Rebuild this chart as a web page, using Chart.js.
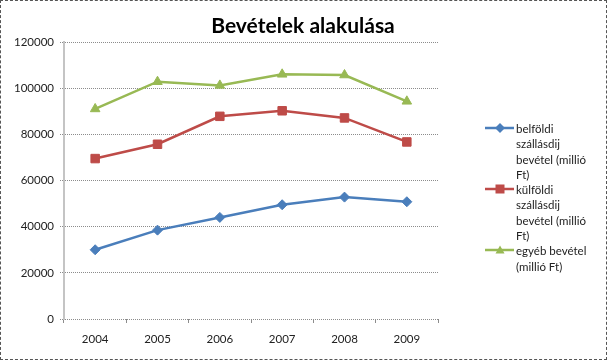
<!DOCTYPE html>
<html lang="hu">
<head>
<meta charset="utf-8">
<title>Bevételek alakulása</title>
<script src="https://cdn.jsdelivr.net/npm/chart.js@4/dist/chart.umd.min.js"></script>
<style>
  html, body { margin: 0; padding: 0; background: #fff; }
  #wrap {
    position: relative;
    width: 605px;
    height: 358px;
    border: 1px dashed #555;
    font-family: Lato, "Noto Sans", sans-serif;
  }
  #chart { position: absolute; left: -1px; top: -1px; }
  #legend {
    position: absolute;
    left: 484px;
    top: 120px;
    font-size: 11.5px;
    line-height: 15.3px;
    color: #222;
  }
  .item { display: flex; align-items: flex-start; }
  .item svg { flex: none; margin-top: 1px; }
  .item span { padding-left: 1px; }
</style>
</head>
<body>
<div id="wrap">
  <canvas id="chart" width="607" height="360"></canvas>
  <div id="legend"></div>
</div>
<script>
const years = ["2004", "2005", "2006", "2007", "2008", "2009"];
const domestic = [30000, 38500, 44000, 49500, 52800, 50800];
const foreign = [69500, 75700, 87800, 90200, 87100, 76700];
const other = [91000, 102800, 101200, 106000, 105700, 94300];
const yTicks = [0, 20000, 40000, 60000, 80000, 100000, 120000];

const seriesNames = [
  ["belföldi", "szállásdij", "bevétel (millió", "Ft)"],
  ["külföldi", "szállásdij", "bevétel (millió", "Ft)"],
  ["egyéb bevétel", "(millió Ft)"]
];
const colors = ["#4a7ebb", "#be4b48", "#98b954"];
const markers = ["rectRot", "rect", "triangle"];
const markerSizes = [5, 6, 5.5];

const PLOT = { left: 64, right: 438, top: 42, bottom: 319 };

function makeDataset(i, data) {
  return {
    label: seriesNames[i].join(" "),
    data,
    borderColor: colors[i],
    backgroundColor: colors[i],
    borderWidth: 2.5,
    pointStyle: markers[i],
    pointRadius: markerSizes[i],
    pointBorderWidth: 1,
    pointBorderColor: colors[i],
    tension: 0
  };
}

// title is centred over the whole picture, not the plot area
const titlePlugin = {
  id: "titleText",
  afterDraw(chart) {
    const ctx = chart.ctx;
    ctx.save();
    ctx.font = "bold 21px Lato, 'Noto Sans', sans-serif";
    ctx.fillStyle = "#000";
    ctx.textAlign = "center";
    ctx.textBaseline = "alphabetic";
    ctx.fillText("Bevételek alakulása", 303, 33);
    ctx.restore();
  }
};

new Chart(document.getElementById("chart"), {
  type: "line",
  data: {
    labels: years,
    datasets: [
      makeDataset(0, domestic),
      makeDataset(1, foreign),
      makeDataset(2, other)
    ]
  },
  options: {
    responsive: false,
    animation: false,
    layout: { padding: { left: 0, top: PLOT.top, right: 607 - PLOT.right, bottom: 0 } },
    plugins: {
      legend: { display: false },
      tooltip: { enabled: false }
    },
    scales: {
      x: {
        type: "category",
        offset: true,
        afterFit: (s) => { s.height = 360 - PLOT.bottom; },
        grid: { display: true, drawOnChartArea: false, offset: true, tickLength: 4, color: "#8c8c8c" },
        border: { display: false },
        ticks: { color: "#222", font: { family: "Lato", size: 11.5 }, padding: 9 }
      },
      y: {
        min: 0,
        max: 120000,
        afterFit: (s) => { s.width = PLOT.left; },
        afterBuildTicks: (s) => { s.ticks = yTicks.map((v) => ({ value: v })); },
        grid: { color: "#8c8c8c", lineWidth: 1, tickLength: 4, tickBorderDash: [1, 1] },
        border: { display: true, color: "#c4c4c4", width: 2, dash: [1, 1] },
        ticks: {
          color: "#222",
          font: { family: "Lato", size: 11.5 },
          padding: 6,
          callback: (v) => String(v)
        }
      }
    }
  },
  plugins: [titlePlugin]
});

function markerSvg(i) {
  const c = colors[i];
  let shape = "";
  if (markers[i] === "rectRot") shape = `<polygon points="15,1 20,6 15,11 10,6" fill="${c}"/>`;
  else if (markers[i] === "rect") shape = `<rect x="10.5" y="1.5" width="9" height="9" fill="${c}"/>`;
  else shape = `<polygon points="15,1.5 19.5,9.5 10.5,9.5" fill="${c}"/>`;
  return `<svg width="30" height="12"><line x1="0" y1="6" x2="29" y2="6" stroke="${c}" stroke-width="2.5"/>${shape}</svg>`;
}

const legendEl = document.getElementById("legend");
seriesNames.forEach((lines, i) => {
  const div = document.createElement("div");
  div.className = "item";
  div.innerHTML = markerSvg(i) + `<span>${lines.join("<br>")}</span>`;
  legendEl.appendChild(div);
});
</script>
</body>
</html>
